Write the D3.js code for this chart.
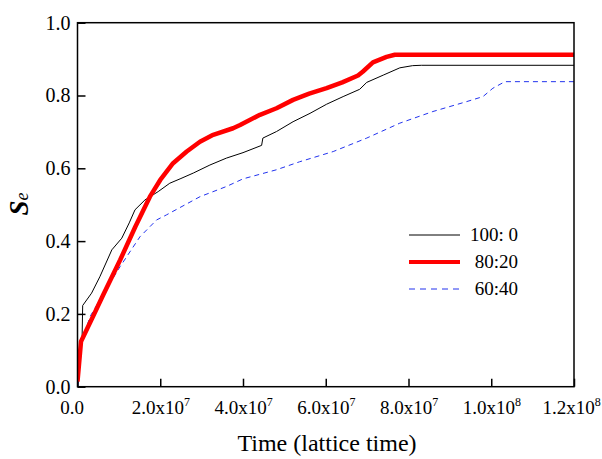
<!DOCTYPE html>
<html>
<head>
<meta charset="utf-8">
<script src="https://cdn.jsdelivr.net/npm/d3@7"></script>
<style>
  body { margin: 0; background: #fff; }
  text { font-family: "Liberation Serif", "Times New Roman", serif; fill: #000; }
</style>
</head>
<body>
<div id="chart"></div>
<script>
// time in lattice steps, Se values
var pure = [
  [0, 0], [1.1e6, 0.128], [1.25e6, 0.223], [3.4e6, 0.257], [5.4e6, 0.302], [8.3e6, 0.376],
  [10.7e6, 0.408], [12.5e6, 0.45], [13.9e6, 0.486], [16.3e6, 0.513], [19.5e6, 0.536],
  [22.3e6, 0.559], [25e6, 0.572], [28e6, 0.587], [32e6, 0.609], [36e6, 0.628], [40e6, 0.643],
  [44.5e6, 0.663], [44.8e6, 0.683], [48.1e6, 0.701], [52.1e6, 0.728], [56.2e6, 0.751],
  [60.2e6, 0.776], [64.2e6, 0.797], [68.2e6, 0.817], [69.9e6, 0.836], [73.9e6, 0.856],
  [77.9e6, 0.876], [81e6, 0.882], [83.1e6, 0.883], [120e6, 0.883]
];
var mix8020 = [
  [0, 0.014], [0.85e6, 0.124], [3.8e6, 0.194], [6.2e6, 0.252], [10.3e6, 0.348], [14e6, 0.44],
  [17.5e6, 0.522], [20e6, 0.568], [23.1e6, 0.614], [26.4e6, 0.646],
  [29.6e6, 0.673], [32.8e6, 0.692], [37.6e6, 0.710], [39.3e6, 0.719], [44.1e6, 0.747],
  [48.1e6, 0.765], [52.1e6, 0.788], [56e6, 0.805], [60.2e6, 0.820], [64e6, 0.836],
  [67.8e6, 0.855], [69e6, 0.866], [71.4e6, 0.891], [74.7e6, 0.906], [76.7e6, 0.912],
  [120e6, 0.912]
];
var mix6040 = [
  [0, 0], [1.0e6, 0.12], [3.0e6, 0.192], [6.5e6, 0.26], [10.3e6, 0.33], [15.1e6, 0.412],
  [19.1e6, 0.458], [21.5e6, 0.472], [29.6e6, 0.522], [36e6, 0.550], [40e6, 0.571],
  [48.1e6, 0.596], [53.7e6, 0.618], [61.8e6, 0.646], [69.9e6, 0.683], [77.9e6, 0.724],
  [85.9e6, 0.756], [94e6, 0.783], [98e6, 0.797], [100.4e6, 0.820], [103.3e6, 0.838],
  [120e6, 0.838]
];

var seriesNames = ["100: 0", "80:20", "60:40"];
var xTicks = [0, 2e7, 4e7, 6e7, 8e7, 1e8, 1.2e8];
var xTickBase = ["0.0", "2.0x10", "4.0x10", "6.0x10", "8.0x10", "1.0x10", "1.2x10"];
var xTickExp = ["", "7", "7", "7", "7", "8", "8"];
var yTicks = [0, 0.2, 0.4, 0.6, 0.8, 1.0];

var width = 602, height = 459;
var margin = {left: 77.5, right: 28, top: 22.7, bottom: 72.3};
var w = width - margin.left - margin.right,
    h = height - margin.top - margin.bottom;

var svg = d3.select("#chart").append("svg")
    .attr("width", width)
    .attr("height", height);

var graph = svg.append("g")
    .attr("transform", "translate(" + margin.left + "," + margin.top + ")");

var x = d3.scaleLinear().domain([0, 1.2e8]).range([0, w]);
var y = d3.scaleLinear().domain([0, 1]).range([h, 0]);

graph.append("defs").append("clipPath").attr("id", "plot")
  .append("rect").attr("width", w).attr("height", h);

// axes, ticks pointing inwards
var xAxis = graph.append("g")
    .attr("transform", "translate(0," + h + ")")
    .call(d3.axisBottom(x).tickValues(xTicks).tickSize(-8).tickPadding(14).tickFormat(""));
xAxis.select(".domain").remove();
xAxis.selectAll("line").attr("stroke-width", 1.5);
xAxis.selectAll(".tick text").each(function(d, i) {
  var t = d3.select(this)
      .attr("font-size", 19)
      .attr("fill", "#000")
      .style("font-family", "'Liberation Serif', serif");
  t.append("tspan").text(xTickBase[i]);
  if (xTickExp[i]) {
    t.append("tspan").attr("dy", -8).attr("font-size", 12).text(xTickExp[i]);
  }
});
// "0.0" sits a bit left of its tick, last label pulled in from the edge
xAxis.select(".tick text").attr("dx", -6);
xAxis.selectAll(".tick text").filter(function(d) { return d === 1.2e8; }).attr("dx", -3);

var yAxis = graph.append("g")
    .call(d3.axisLeft(y).tickValues(yTicks).tickSize(-8).tickPadding(7).tickFormat(d3.format(".1f")));
yAxis.select(".domain").remove();
yAxis.selectAll("line").attr("stroke-width", 1.5);
yAxis.selectAll("text").attr("font-size", 20).attr("fill", "#000")
    .style("font-family", "'Liberation Serif', serif");

var line = d3.line()
    .x(function(d) { return x(d[0]); })
    .y(function(d) { return y(d[1]); });

var lines = graph.append("g").attr("clip-path", "url(#plot)");

lines.append("path").attr("d", line(mix6040))
    .attr("fill", "none").attr("stroke", "#2233ee").attr("stroke-width", 1)
    .attr("stroke-dasharray", "5,4");
lines.append("path").attr("d", line(pure))
    .attr("fill", "none").attr("stroke", "#000").attr("stroke-width", 1);
lines.append("path").attr("d", line(mix8020))
    .attr("fill", "none").attr("stroke", "#ff0000").attr("stroke-width", 4.5)
    .attr("stroke-linejoin", "round");

// frame
graph.append("rect")
    .attr("width", w).attr("height", h)
    .attr("fill", "none").attr("stroke", "#000").attr("stroke-width", 1.5);

// legend
var legendItems = [
  {name: seriesNames[0], color: "#000", width: 1, dash: null},
  {name: seriesNames[1], color: "#ff0000", width: 4, dash: null},
  {name: seriesNames[2], color: "#2233ee", width: 1, dash: "6,5"}
];
var legend = svg.append("g").attr("class", "legend");
legendItems.forEach(function(d, i) {
  var ly = 235 + i * 27;
  legend.append("line")
      .attr("x1", 409).attr("x2", 460)
      .attr("y1", ly).attr("y2", ly)
      .attr("stroke", d.color).attr("stroke-width", d.width)
      .attr("stroke-dasharray", d.dash);
  legend.append("text")
      .attr("x", 518).attr("y", ly + 6)
      .attr("text-anchor", "end")
      .attr("font-size", 19)
      .text(d.name);
});

// axis titles
svg.append("text")
    .attr("x", 327).attr("y", 451)
    .attr("text-anchor", "middle")
    .attr("font-size", 24)
    .text("Time (lattice time)");

var yTitle = svg.append("text")
    .attr("transform", "translate(28,204) rotate(-90)")
    .attr("text-anchor", "middle")
    .attr("font-size", 27)
    .attr("font-style", "italic")
    .attr("font-weight", "bold");
yTitle.append("tspan").text("S");
yTitle.append("tspan").attr("font-size", 18).attr("font-weight", "normal").text("e");
</script>
</body>
</html>
